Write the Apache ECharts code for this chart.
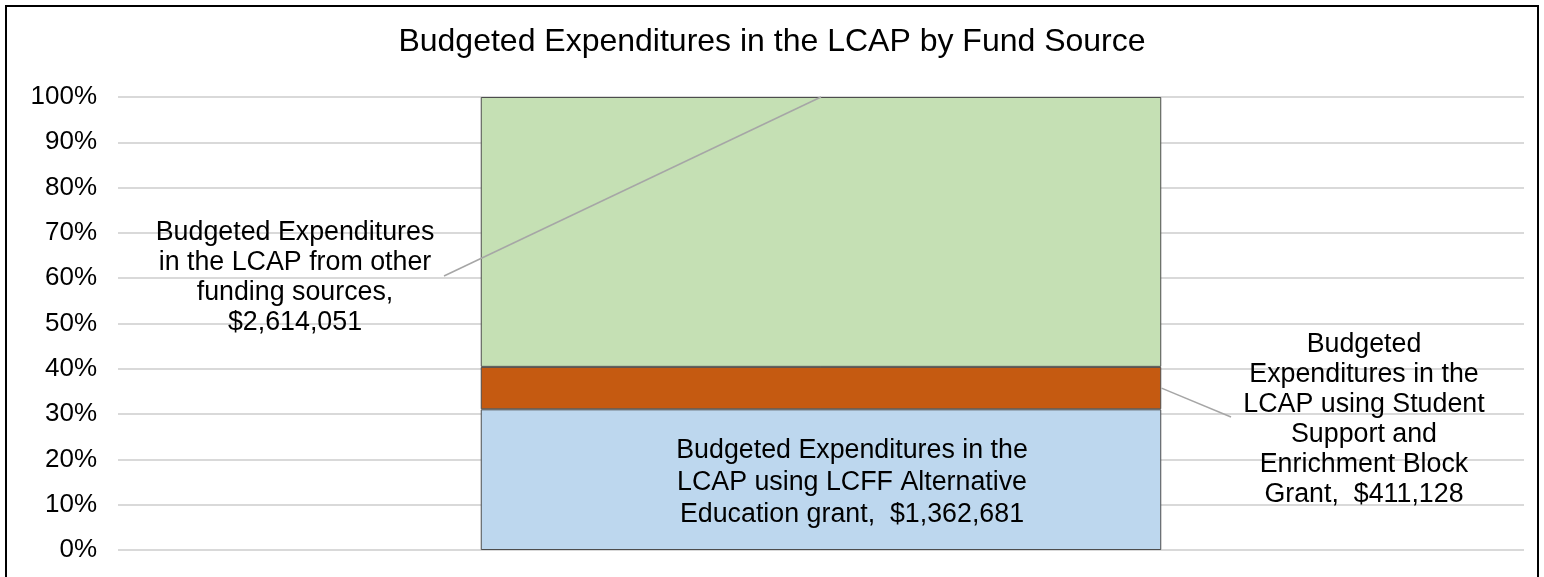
<!DOCTYPE html>
<html>
<head>
<meta charset="utf-8">
<script src="https://cdn.jsdelivr.net/npm/echarts@6/dist/echarts.min.js"></script>
<style>html,body{margin:0;padding:0;background:#fff;}#c{width:1544px;height:577px;}</style>
</head>
<body>
<div id="c"></div>
<script>
var categories = [''];
var seriesNames = [
  'Budgeted Expenditures in the LCAP using LCFF Alternative Education grant',
  'Budgeted Expenditures in the LCAP using Student Support and Enrichment Block Grant',
  'Budgeted Expenditures in the LCAP from other funding sources'
];
var seriesValues = [1362681, 411128, 2614051];
var labelLines = [
  ['Budgeted Expenditures in the', 'LCAP using LCFF Alternative', 'Education grant,  $1,362,681'],
  ['Budgeted', 'Expenditures in the', 'LCAP using Student', 'Support and', 'Enrichment Block', 'Grant,  $411,128'],
  ['Budgeted Expenditures', 'in the LCAP from other', 'funding sources,', '$2,614,051']
];
var seriesColors = ['#bdd7ee', '#c55a11', '#c5e0b4'];
var yTicks = [0, 10, 20, 30, 40, 50, 60, 70, 80, 90, 100];

var total = seriesValues.reduce(function (a, b) { return a + b; }, 0);
var pct = seriesValues.map(function (v) { return v / total * 100; });

var FONT = '"Liberation Sans", Arial, sans-serif';
var chart = echarts.init(document.getElementById('c'));

var labelPos = [null, { x: 1364, y: 420 }, { x: 295, y: 278 }];
var lineHeights = [32, 30, 30];

var series = seriesNames.map(function (name, i) {
  var s = {
    name: name,
    type: 'bar',
    stack: 'total',
    barWidth: '48.4%',
    data: [pct[i]],
    itemStyle: { color: seriesColors[i], borderColor: '#4d4d4d', borderWidth: 1 },
    label: {
      show: true,
      position: 'inside',
      offset: [31, 3],
      formatter: labelLines[i].join('\n'),
      color: '#000',
      fontFamily: FONT,
      fontSize: 26.8,
      lineHeight: lineHeights[i],
      align: 'center'
    },
    silent: true
  };
  if (labelPos[i]) {
    (function (p) {
      s.labelLayout = function () {
        return { x: p.x, y: p.y, align: 'center', verticalAlign: 'middle' };
      };
    })(labelPos[i]);
  }
  return s;
});

chart.setOption({
  animation: false,
  title: {
    text: 'Budgeted Expenditures in the LCAP by Fund Source',
    left: 'center',
    top: 21,
    textStyle: { fontFamily: FONT, fontSize: 32, fontWeight: 'normal', color: '#000' }
  },
  grid: { left: 118, right: 20, top: 97, bottom: 27, containLabel: false },
  xAxis: {
    type: 'category',
    data: categories,
    axisLine: { show: false },
    axisTick: { show: false },
    axisLabel: { show: false }
  },
  yAxis: {
    type: 'value',
    min: 0,
    max: 100,
    interval: 10,
    axisLine: { show: false },
    axisTick: { show: false },
    axisLabel: {
      formatter: function (v) { return yTicks.indexOf(v) >= 0 ? v + '%' : ''; },
      fontFamily: FONT, fontSize: 26, color: '#000', margin: 21
    },
    splitLine: { lineStyle: { color: '#d9d9d9', width: 2 } }
  },
  series: series
});

function drawExtras() {
  var yTop = chart.convertToPixel({ yAxisIndex: 0 }, 100);
  var yOrangeMid = chart.convertToPixel({ yAxisIndex: 0 }, pct[0] + pct[1] / 2);
  var xCenter = chart.convertToPixel({ xAxisIndex: 0 }, 0);
  var barHalf = 681 / 2;
  chart.setOption({
    graphic: [
      { type: 'rect', z: 100, shape: { x: 6, y: 6, width: 1532, height: 620 }, style: { fill: 'none', stroke: '#000', lineWidth: 2 }, silent: true },
      { type: 'line', z: 100, shape: { x1: 444, y1: 276, x2: xCenter, y2: yTop }, style: { stroke: '#a6a6a6', lineWidth: 1.5 }, silent: true },
      { type: 'line', z: 100, shape: { x1: xCenter + barHalf, y1: yOrangeMid, x2: 1231, y2: 417 }, style: { stroke: '#a6a6a6', lineWidth: 1.5 }, silent: true }
    ]
  });
}
drawExtras();
</script>
</body>
</html>
